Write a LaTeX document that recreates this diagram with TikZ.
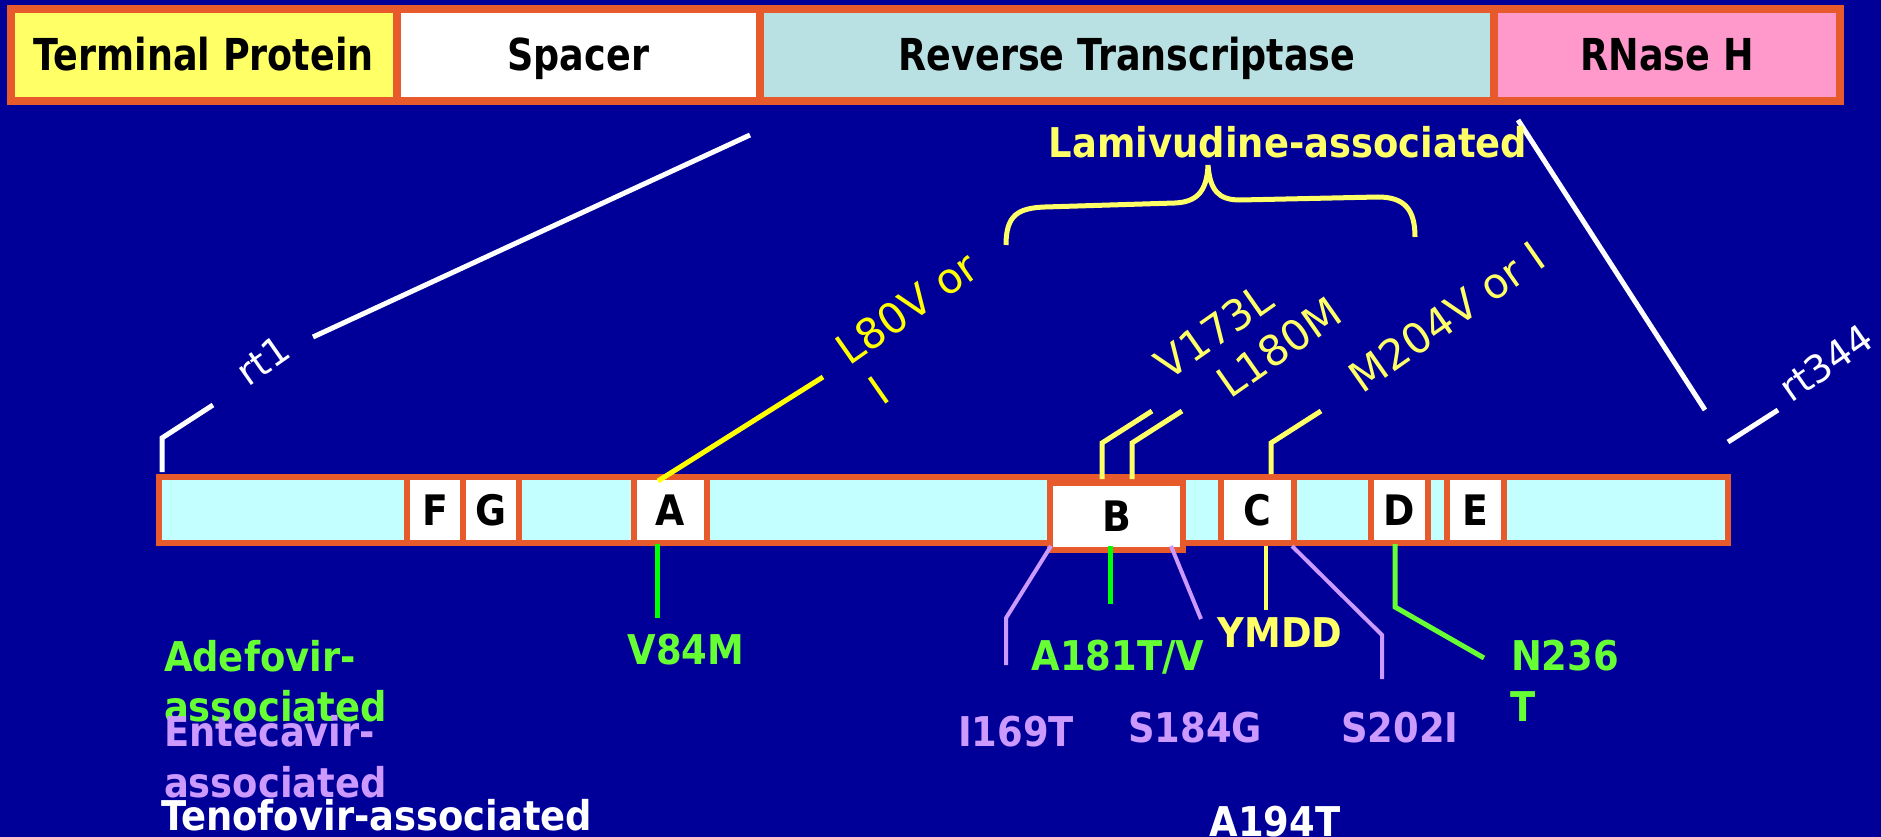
\documentclass[tikz,border=0pt]{standalone}
\usepackage{fontspec}
\setmainfont{DejaVu Sans}
\newfontfamily\labfont{DejaVu Sans}[FakeStretch=0.9]
\newfontfamily\barfont{DejaVu Sans}[FakeStretch=0.83]
\definecolor{bgblue}{HTML}{000099}
\definecolor{bord}{HTML}{E65A2B}
\definecolor{tpyel}{HTML}{FFFF66}
\definecolor{rtcol}{HTML}{B9E1E3}
\definecolor{rnpink}{HTML}{FF99CC}
\definecolor{barcyan}{HTML}{C4FFFF}
\definecolor{yel}{HTML}{FFFF00}
\definecolor{pyel}{HTML}{FFFF66}
\definecolor{grn}{HTML}{00FF00}
\definecolor{lgrn}{HTML}{66FF33}
\definecolor{purp}{HTML}{CC99FF}
\tikzset{
 topbox/.style={draw=bord, line width=8pt, minimum height=92pt, inner sep=0pt, outer sep=0pt, text height=32pt, text depth=0pt, text=black, font=\barfont\bfseries\fontsize{44}{50}\selectfont},
 rtbox/.style={draw=bord, fill=white, line width=5.5pt, minimum height=66pt, inner sep=0pt, outer sep=0pt, text height=30pt, text depth=0pt, text=black, font=\labfont\bfseries\fontsize{42}{50}\selectfont},
 lab/.style={inner sep=0pt, outer sep=0pt, font=\labfont\bfseries\fontsize{41}{49}\selectfont},
 rtlab/.style={inner sep=0pt, outer sep=0pt, text=white, rotate=35, font=\fontsize{38}{46}\selectfont},
 mutlab/.style={inner sep=0pt, outer sep=0pt, rotate=35, text=pyel, font=\fontsize{42}{50}\selectfont},
 wline/.style={draw=white, line width=5pt},
 yline/.style={draw=yel, line width=5pt},
 pyline/.style={draw=pyel, line width=5pt},
 gline/.style={draw=grn, line width=5pt},
 lgline/.style={draw=lgrn, line width=5pt},
 pline/.style={draw=purp, line width=4pt},
}
\begin{document}
\begin{tikzpicture}[x=1pt,y=-1pt]
\useasboundingbox (0,0) rectangle (1881,837);
\fill[bgblue] (0,0) rectangle (1881,837);

% top domain bar
\node[topbox, fill=tpyel, minimum width=385.5pt] (tp) at (203.75,55) {Terminal Protein};
\node[topbox, fill=white, minimum width=363.5pt] (sp) at (578.25,55) {Spacer};
\node[topbox, fill=rtcol, minimum width=734pt] (rt) at (1127,55) {Reverse Transcriptase};
\node[topbox, fill=rnpink, minimum width=346pt] (rn) at (1667,55) {RNase H};

% white zoom lines and rt labels
\coordinate (w1a) at (162,472);
\coordinate (w1b) at (162,438);
\coordinate (w1c) at (213,405);
\coordinate (w2a) at (313,337);
\coordinate (w2b) at (750,135);
\coordinate (w3a) at (1518,120);
\coordinate (w3b) at (1705,410);
\coordinate (w4a) at (1728,442);
\coordinate (w4b) at (1778,410);
\draw[wline] (w1a) -- (w1b) -- (w1c);
\draw[wline] (w2a) -- (w2b);
\draw[wline] (w3a) -- (w3b);
\draw[wline] (w4a) -- (w4b);
\node[rtlab] (rt1) at (263,360) {rt1};
\node[rtlab] (rt344) at (1826,363) {rt344};

% RT domain bar
\node[draw=bord, fill=barcyan, line width=5.5pt, minimum width=1569pt, minimum height=66pt, inner sep=0pt, outer sep=0pt] (bar) at (943.5,510) {};
\node[rtbox, minimum width=56pt] (F) at (435,510) {F};
\node[rtbox, minimum width=56pt] (G) at (491,510) {G};
\node[rtbox, minimum width=73pt] (A) at (670.5,510) {A};
\node[rtbox, minimum width=133pt, minimum height=67pt] (B) at (1116.5,516.5) {B};
\node[rtbox, minimum width=73pt] (C) at (1257.5,510) {C};
\node[rtbox, minimum width=57pt] (D) at (1399.5,510) {D};
\node[rtbox, minimum width=57pt] (E) at (1475.5,510) {E};

% Lamivudine
\node[lab, text=pyel, anchor=base] (lam) at (1288,158) {Lamivudine-associated};
\draw[pyline] (1006,245) .. controls (1006,215) and (1018,208) .. (1045,207)
  -- (1175,203) .. controls (1198,202) and (1207,190) .. (1208,165)
  .. controls (1210,190) and (1218,200) .. (1240,200)
  -- (1378,197) .. controls (1405,197) and (1415,210) .. (1415,237);

\coordinate (y1a) at (658,481);
\coordinate (y1b) at (823,377);
\draw[yline] (y1a) -- (y1b);
\node[mutlab, text=yel] (l80) at (907,308) {L80V or};
\node[mutlab, text=yel] (l80i) at (879,390) {I};

\coordinate (y2a) at (1102,479);
\coordinate (y2b) at (1102,443);
\coordinate (y2c) at (1152,411);
\coordinate (y3a) at (1132,479);
\coordinate (y3b) at (1132,443);
\coordinate (y3c) at (1182,411);
\coordinate (y4a) at (1271,474);
\coordinate (y4b) at (1271,443);
\coordinate (y4c) at (1321,411);
\draw[pyline] (y2a) -- (y2b) -- (y2c);
\draw[pyline] (y3a) -- (y3b) -- (y3c);
\draw[pyline] (y4a) -- (y4b) -- (y4c);
\node[mutlab] (v173) at (1214,331) {V173L};
\node[mutlab] (l180) at (1279,347) {L180M};
\node[mutlab] (m204) at (1447,317) {M204V or I};

% lower connectors
\coordinate (g1a) at (657,544);
\coordinate (g1b) at (657,618);
\draw[gline] (g1a) -- (g1b);
\coordinate (p1a) at (1051,546);
\coordinate (p1b) at (1006,618);
\coordinate (p1c) at (1006,665);
\draw[pline] (p1a) -- (p1b) -- (p1c);
\coordinate (g2a) at (1110,546);
\coordinate (g2b) at (1110,604);
\draw[gline] (g2a) -- (g2b);
\coordinate (p2a) at (1171,546);
\coordinate (p2b) at (1201,619);
\draw[pline] (p2a) -- (p2b);
\coordinate (y5a) at (1266,546);
\coordinate (y5b) at (1266,610);
\draw[pyline, line width=4pt] (y5a) -- (y5b);
\coordinate (p3a) at (1292,546);
\coordinate (p3b) at (1382,635);
\coordinate (p3c) at (1382,679);
\draw[pline] (p3a) -- (p3b) -- (p3c);
\coordinate (g3a) at (1395,544);
\coordinate (g3b) at (1395,607);
\coordinate (g3c) at (1484,658);
\draw[lgline] (g3a) -- (g3b) -- (g3c);

% lower labels
\node[lab, text=lgrn, anchor=base] (v84) at (686,664) {V84M};
\node[lab, text=lgrn, anchor=base] (a181) at (1118,670) {A181T/V};
\node[lab, text=pyel, anchor=base] (ymdd) at (1280,647) {YMDD};
\node[lab, text=lgrn, anchor=base west] (n236) at (1511,670) {N236};
\node[lab, text=lgrn, anchor=base west] (n236t) at (1510,721) {T};
\node[lab, text=purp, anchor=base] (i169) at (1016,746) {I169T};
\node[lab, text=purp, anchor=base] (s184) at (1195,742) {S184G};
\node[lab, text=purp, anchor=base] (s202) at (1400,742) {S202I};
\node[lab, text=white, anchor=base] (a194) at (1275,836) {A194T};

% legend
\node[lab, text=lgrn, anchor=base west] (ade1) at (164,671) {Adefovir-};
\node[lab, text=lgrn, anchor=base west] (ade2) at (164,721) {associated};
\node[lab, text=purp, anchor=base west] (ent1) at (164,746) {Entecavir-};
\node[lab, text=purp, anchor=base west] (ent2) at (164,797) {associated};
\node[lab, text=white, anchor=base west] (ten) at (161,830) {Tenofovir-associated};
\end{tikzpicture}
\end{document}
